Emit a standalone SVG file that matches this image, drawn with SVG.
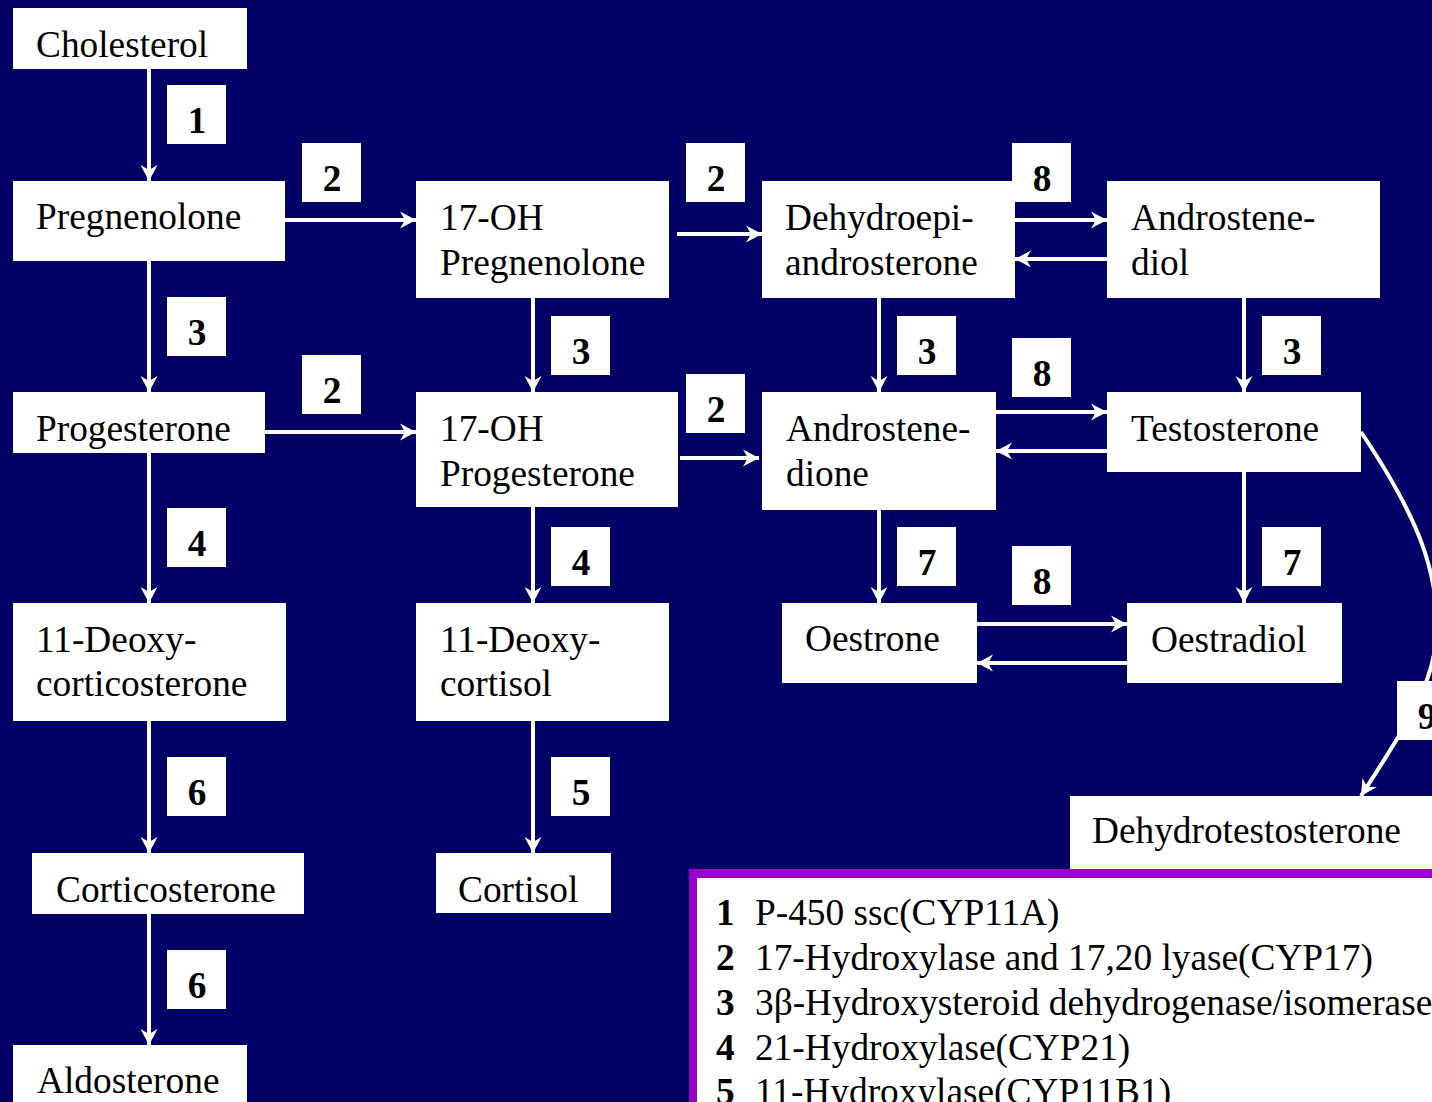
<svg xmlns="http://www.w3.org/2000/svg" width="1432" height="1102" viewBox="0 0 1432 1102">
<style>
.bg{fill:#000066}
.box{fill:#ffffff}
.t{font-family:"Liberation Serif","Times New Roman",serif;font-size:37.33px;fill:#000}
.n{font-family:"Liberation Serif","Times New Roman",serif;font-size:37.33px;font-weight:bold;fill:#000;text-anchor:middle}
.c{stroke:#ffffff;stroke-width:4;fill:none;marker-end:url(#ah)}
</style>
<defs>
<marker id="ah" markerUnits="userSpaceOnUse" markerWidth="18" markerHeight="18" viewBox="0 0 18 18" refX="16" refY="9" orient="auto">
<path d="M0,0.5 L16,9 L0,17.5 L5,9 Z" fill="#ffffff"/>
</marker>
</defs>
<rect class="bg" x="0" y="0" width="1432" height="1102"/>

<g id="connectors">
<line class="c" x1="149" y1="69" x2="149" y2="181"/>
<line class="c" x1="285" y1="220" x2="416" y2="220"/>
<line class="c" x1="149" y1="261" x2="149" y2="392"/>
<line class="c" x1="265" y1="432" x2="416" y2="432"/>
<line class="c" x1="149" y1="453" x2="149" y2="603"/>
<line class="c" x1="149" y1="721" x2="149" y2="853"/>
<line class="c" x1="149" y1="913" x2="149" y2="1045"/>
<line class="c" x1="533" y1="298" x2="533" y2="392"/>
<line class="c" x1="533" y1="507" x2="533" y2="603"/>
<line class="c" x1="533" y1="721" x2="533" y2="853"/>
<line class="c" x1="677" y1="234" x2="762" y2="234"/>
<line class="c" x1="680" y1="458" x2="759" y2="458"/>
<line class="c" x1="1015" y1="220" x2="1107" y2="220"/>
<line class="c" x1="1107" y1="259" x2="1015" y2="259"/>
<line class="c" x1="879" y1="298" x2="879" y2="392"/>
<line class="c" x1="1244" y1="298" x2="1244" y2="392"/>
<line class="c" x1="996" y1="412" x2="1107" y2="412"/>
<line class="c" x1="1107" y1="451" x2="996" y2="451"/>
<line class="c" x1="879" y1="510" x2="879" y2="603"/>
<line class="c" x1="1244" y1="472" x2="1244" y2="603"/>
<line class="c" x1="977" y1="624" x2="1127" y2="624"/>
<line class="c" x1="1127" y1="663" x2="977" y2="663"/>
<path class="c" d="M1361,432 C1412,508 1442,570 1436,640 C1432,690 1400,735 1361,796"/>
</g>

<g id="cholesterol"><rect class="box" x="13" y="8" width="234" height="61"/><text class="t" x="36" y="57">Cholesterol</text></g>
<g id="pregnenolone"><rect class="box" x="13" y="181" width="272" height="80"/><text class="t" x="36" y="229">Pregnenolone</text></g>
<g id="progesterone"><rect class="box" x="13" y="392" width="252" height="61"/><text class="t" x="36" y="441">Progesterone</text></g>
<g id="deoxycorticosterone"><rect class="box" x="13" y="603" width="273" height="118"/><text class="t" x="36" y="652">11-Deoxy-</text><text class="t" x="36" y="696">corticosterone</text></g>
<g id="corticosterone"><rect class="box" x="32" y="853" width="272" height="61"/><text class="t" x="56" y="902">Corticosterone</text></g>
<g id="aldosterone"><rect class="box" x="13" y="1045" width="234" height="70"/><text class="t" x="37" y="1093">Aldosterone</text></g>
<g id="oh-pregnenolone"><rect class="box" x="416" y="181" width="253" height="117"/><text class="t" x="440" y="230">17-OH</text><text class="t" x="440" y="275">Pregnenolone</text></g>
<g id="oh-progesterone"><rect class="box" x="416" y="392" width="262" height="115"/><text class="t" x="440" y="441">17-OH</text><text class="t" x="440" y="486">Progesterone</text></g>
<g id="deoxycortisol"><rect class="box" x="416" y="603" width="253" height="118"/><text class="t" x="440" y="652">11-Deoxy-</text><text class="t" x="440" y="696">cortisol</text></g>
<g id="cortisol"><rect class="box" x="436" y="853" width="175" height="60"/><text class="t" x="458" y="902">Cortisol</text></g>
<g id="dhea"><rect class="box" x="762" y="181" width="253" height="117"/><text class="t" x="785" y="230">Dehydroepi-</text><text class="t" x="785" y="275">androsterone</text></g>
<g id="androstenediol"><rect class="box" x="1107" y="181" width="273" height="117"/><text class="t" x="1131" y="230">Androstene-</text><text class="t" x="1131" y="275">diol</text></g>
<g id="androstenedione"><rect class="box" x="762" y="392" width="234" height="118"/><text class="t" x="786" y="441">Androstene-</text><text class="t" x="786" y="486">dione</text></g>
<g id="testosterone"><rect class="box" x="1107" y="392" width="254" height="80"/><text class="t" x="1131" y="441">Testosterone</text></g>
<g id="oestrone"><rect class="box" x="782" y="603" width="195" height="80"/><text class="t" x="805" y="651">Oestrone</text></g>
<g id="oestradiol"><rect class="box" x="1127" y="603" width="215" height="80"/><text class="t" x="1151" y="652">Oestradiol</text></g>
<g id="dehydrotestosterone"><rect class="box" x="1070" y="796" width="380" height="74"/><text class="t" x="1092" y="843">Dehydrotestosterone</text></g>

<g id="labels">
<g id="l1"><rect class="box" x="167" y="85" width="59" height="59"/><text class="n" x="197" y="133">1</text></g>
<g id="l2a"><rect class="box" x="302" y="143" width="59" height="59"/><text class="n" x="332" y="191">2</text></g>
<g id="l3a"><rect class="box" x="167" y="297" width="59" height="59"/><text class="n" x="197" y="345">3</text></g>
<g id="l2b"><rect class="box" x="302" y="355" width="59" height="59"/><text class="n" x="332" y="403">2</text></g>
<g id="l4a"><rect class="box" x="167" y="508" width="59" height="59"/><text class="n" x="197" y="556">4</text></g>
<g id="l6a"><rect class="box" x="167" y="757" width="59" height="59"/><text class="n" x="197" y="805">6</text></g>
<g id="l6b"><rect class="box" x="167" y="950" width="59" height="59"/><text class="n" x="197" y="998">6</text></g>
<g id="l3b"><rect class="box" x="551" y="316" width="59" height="59"/><text class="n" x="581" y="364">3</text></g>
<g id="l4b"><rect class="box" x="551" y="527" width="59" height="59"/><text class="n" x="581" y="575">4</text></g>
<g id="l5"><rect class="box" x="551" y="757" width="59" height="59"/><text class="n" x="581" y="805">5</text></g>
<g id="l2c"><rect class="box" x="686" y="143" width="59" height="59"/><text class="n" x="716" y="191">2</text></g>
<g id="l2d"><rect class="box" x="686" y="374" width="59" height="59"/><text class="n" x="716" y="422">2</text></g>
<g id="l8a"><rect class="box" x="1012" y="143" width="59" height="59"/><text class="n" x="1042" y="191">8</text></g>
<g id="l3c"><rect class="box" x="897" y="316" width="59" height="59"/><text class="n" x="927" y="364">3</text></g>
<g id="l8b"><rect class="box" x="1012" y="338" width="59" height="59"/><text class="n" x="1042" y="386">8</text></g>
<g id="l3d"><rect class="box" x="1262" y="316" width="59" height="59"/><text class="n" x="1292" y="364">3</text></g>
<g id="l7a"><rect class="box" x="897" y="527" width="59" height="59"/><text class="n" x="927" y="575">7</text></g>
<g id="l8c"><rect class="box" x="1012" y="546" width="59" height="59"/><text class="n" x="1042" y="594">8</text></g>
<g id="l7b"><rect class="box" x="1262" y="527" width="59" height="59"/><text class="n" x="1292" y="575">7</text></g>
<g id="l9"><rect class="box" x="1397" y="681" width="59" height="59"/><text class="n" x="1427" y="729">9</text></g>
</g>

<g id="legend">
<rect x="689" y="869" width="800" height="300" fill="#9900cc"/>
<rect x="697" y="878" width="800" height="300" fill="#ffffff"/>
<text class="t" y="925"><tspan x="716" font-weight="bold">1</tspan><tspan x="755">P-450 ssc(CYP11A)</tspan></text>
<text class="t" y="970"><tspan x="716" font-weight="bold">2</tspan><tspan x="755">17-Hydroxylase and 17,20 lyase(CYP17)</tspan></text>
<text class="t" y="1015"><tspan x="716" font-weight="bold">3</tspan><tspan x="755">3β-Hydroxysteroid dehydrogenase/isomerase</tspan></text>
<text class="t" y="1060"><tspan x="716" font-weight="bold">4</tspan><tspan x="755">21-Hydroxylase(CYP21)</tspan></text>
<text class="t" y="1104"><tspan x="716" font-weight="bold">5</tspan><tspan x="755">11-Hydroxylase(CYP11B1)</tspan></text>
</g>
</svg>
